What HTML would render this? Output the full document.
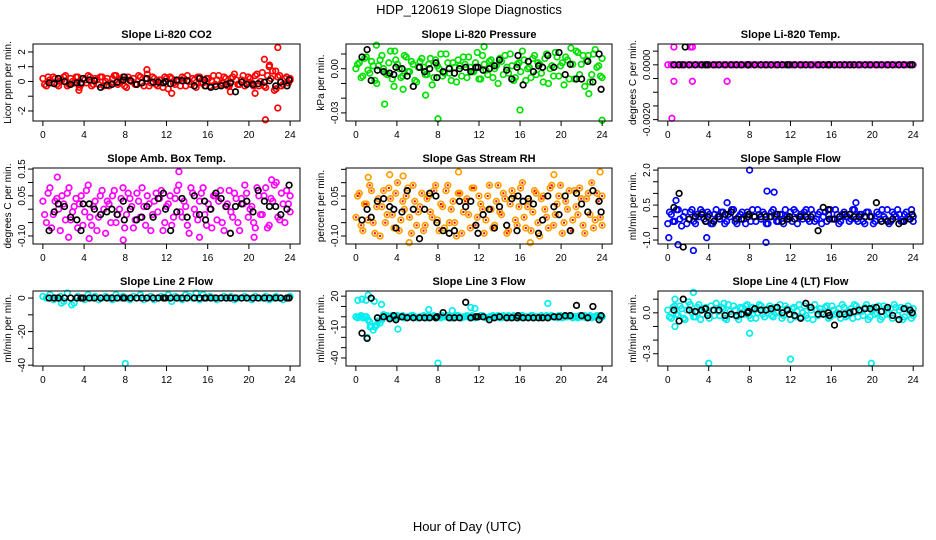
<!DOCTYPE html>
<html><head><meta charset="utf-8">
<style>
html,body{margin:0;padding:0;background:#fff;}
svg{display:block;font-family:"Liberation Sans",sans-serif;}
</style></head>
<body>
<svg id="chart" width="936" height="540" viewBox="0 0 936 540">
<text x="469" y="14" text-anchor="middle" font-size="13">HDP_120619  Slope Diagnostics</text>
<text x="467" y="531" text-anchor="middle" font-size="13">Hour of Day (UTC)</text>
</svg>
<script>
// ---- shared data ----
const blackHours = [0.6,1.1,1.5,2.1,2.7,3.3,3.7,3.9,4.5,5.0,5.6,6.2,6.7,7.2,7.8,7.9,8.5,9.1,9.6,10.1,10.7,11.2,11.7,11.9,12.4,13.0,13.5,14.0,14.7,15.2,15.7,15.8,16.3,16.8,17.3,17.8,18.2,18.7,19.3,19.8,20.4,20.9,21.5,22.0,22.6,23.1,23.7,23.9];
const xTickLabels = [0,4,8,12,16,20,24];

// ---- panel 1: CO2 ----
const co2Color = [0.2,-0.3,0.1,0.3,-0.2,0.0,0.3,-0.3,0.2,-0.1,0.3,-0.2,0.1,0.4,-0.3,0.2,-0.2,0.3,0.0,-0.3,0.2,0.4,-0.1,0.3,-0.4,0.1,0.2,-0.2,0.3,-0.3,0.5,-0.1,0.2,-0.3,0.1,0.3,-0.5,0.2,-0.2,0.1,0.3,-0.3,0.0,0.2,-0.4,0.3,-0.1,0.2,-0.3,0.4,0.1,-0.2,0.3,-0.3,0.2,0.5,-0.2,0.1,-0.3,0.3,-0.1,0.4,-0.3,0.6,-0.4,1.0,0.7,-0.5,0.4,-0.2,0.3,0.1];
const co2ColorB = [-0.2,0.3,-0.1,0.2,-0.3,0.1,0.4,-0.2,0.0,0.3,-0.4,0.2,-0.1,0.3,-0.2,0.1,0.3,-0.3,0.2,-0.1,0.4,-0.2,0.1,-0.3,0.3,0.0,-0.2,0.4,-0.1,0.2,-0.3,0.3,-0.2,0.1,-0.4,0.2,0.3,-0.1,0.0,-0.3,0.2,0.4,-0.2,0.1,0.3,-0.1,-0.3,0.2,0.0,-0.2,0.4,-0.1,0.2,-0.3,0.3,0.1,-0.2,0.4,-0.1,0.2,-0.3,0.5,0.0,-0.3,0.4,0.2,-0.6,0.3,-0.3,0.2,-0.1,0.2];
const co2Outliers = [[10.1,0.8],[21.5,1.5],[21.6,-2.6],[22.8,2.3],[22.8,-1.8],[20.6,-0.8],[3.5,-0.6],[22.0,1.1],[22.6,0.7],[18.2,-0.7],[12.5,-0.8]];
const co2Black = [-0.1,-0.15,0.2,0.0,-0.2,-0.1,-0.1,0.2,0.1,0.05,-0.4,-0.25,-0.2,-0.05,0.1,0.3,0.05,-0.2,-0.1,0.2,-0.05,-0.05,-0.1,0.0,-0.15,0.1,0.05,0.05,-0.3,0.2,0.1,-0.3,-0.4,-0.35,-0.3,-0.2,-0.1,-0.7,-0.05,-0.2,-0.2,-0.15,-0.05,0.05,-0.3,-0.05,-0.3,0.1];
const co2Ticks = [2,1,0,-1,-2];
const co2TickLabels = ["2","1","0","","-2"];

// ---- panel 2: pressure ----
const presColor = [0.000,0.004,-0.005,0.008,-0.003,0.002,-0.010,0.006,0.000,-0.004,0.012,-0.012,0.003,-0.006,0.009,-0.002,0.005,-0.008,0.001,0.007,-0.004,0.003,-0.011,0.006,0.000,-0.005,0.010,-0.003,0.004,-0.009,0.002,0.008,-0.006,0.001,-0.002,0.011,-0.007,0.003,-0.004,0.006,0.000,-0.010,0.005,0.009,-0.003,0.002,-0.006,0.004,0.012,-0.008,0.001,0.007,-0.004,0.003,-0.009,0.010,0.000,-0.005,0.008,0.002,-0.011,0.006,0.014,-0.007,0.011,0.003,-0.012,0.009,-0.004,0.013,0.002,-0.006];
const presColorB = [0.003,-0.006,0.007,-0.001,0.005,-0.008,0.002,0.009,-0.003,0.004,-0.007,0.006,0.000,-0.005,0.008,-0.002,0.003,-0.009,0.005,0.001,-0.004,0.007,-0.006,0.002,0.010,-0.003,0.004,-0.008,0.001,0.006,-0.005,0.003,0.008,-0.002,0.004,-0.007,0.009,-0.001,0.005,-0.006,0.002,0.007,-0.004,0.001,0.010,-0.008,0.003,-0.002,0.006,0.000,-0.006,0.009,0.004,-0.003,0.007,-0.010,0.002,0.011,-0.005,0.004,0.008,-0.007,0.003,0.012,-0.004,0.009,0.006,-0.009,0.010,0.001,-0.005,0.007];
const presOutliers = [[2.8,-0.024],[8.0,-0.034],[16.0,-0.028],[24.0,-0.035],[6.8,-0.018],[2.0,0.016],[12.5,0.015],[22.7,-0.017],[4.6,-0.014],[3.8,0.012]];
const presBlack = [0.008,0.013,-0.008,-0.001,-0.002,-0.003,-0.004,0.001,0.000,-0.005,-0.012,0.001,-0.002,0.000,0.004,-0.006,-0.002,0.000,-0.003,0.000,0.001,-0.002,0.001,0.001,-0.001,0.000,0.002,0.006,-0.001,-0.007,0.001,0.009,-0.011,0.005,-0.002,0.002,0.001,0.009,0.001,0.011,-0.004,0.003,-0.007,-0.007,0.005,-0.009,0.010,-0.014];
const presTicks = [0.01,0,-0.01,-0.02,-0.03];
const presTickLabels = ["","0.00","","","-0.03"];

// ---- panel 3: Li-820 temp ----
const tempColor = [0,0,0,0,0,0,0,0,0,0,0,0,0,0,0,0,0,0,0,0,0,0,0,0,0,0,0,0,0,0,0,0,0,0,0,0,0,0,0,0,0,0,0,0,0,0,0,0,0,0,0,0,0,0,0,0,0,0,0,0,0,0,0,0,0,0,0,0,0,0,0,0];
const tempOutliers = [[0.6,0.00065],[2.2,0.00065],[2.4,0.00065],[0.6,-0.0006],[2.4,-0.0006],[5.8,-0.0006],[0.4,-0.00195]];
const tempBlack = [0,0,0,0,0,0,0,0,0,0,0,0,0,0,0,0,0,0,0,0,0,0,0,0,0,0,0,0,0,0,0,0,0,0,0,0,0,0,0,0,0,0,0,0,0,0,0,0];
const tempBlackExtra = [[1.7,0.00065]];
const tempTicks = [0.0005,0,-0.0005,-0.001,-0.0015,-0.002];
const tempTickLabels = ["","0.0000","","","","-0.0020"];

// ---- panel 4: amb box temp ----
const ambColor = [0.03,-0.05,0.08,-0.02,0.04,-0.08,0.02,0.06,-0.04,0.01,-0.07,0.05,-0.01,0.09,-0.06,0.03,-0.03,0.07,-0.09,0.02,0.05,-0.05,0.00,0.08,-0.02,0.04,-0.07,0.06,-0.03,0.01,0.05,-0.08,0.03,-0.01,0.07,-0.05,0.02,-0.06,0.04,0.09,-0.03,0.01,-0.09,0.06,-0.02,0.03,0.08,-0.06,0.00,0.05,-0.04,0.07,-0.08,0.02,-0.01,0.06,-0.05,0.04,0.09,-0.03,0.01,-0.07,0.05,-0.02,0.08,-0.06,0.03,0.10,-0.04,0.02,0.07,-0.01];
const ambColorB = [-0.02,0.06,-0.07,0.03,0.00,0.05,-0.04,0.08,-0.01,0.04,0.02,-0.06,0.07,-0.03,0.01,-0.08,0.05,0.00,0.03,-0.05,0.07,-0.02,0.04,-0.07,0.06,0.01,-0.04,0.03,0.08,-0.06,0.02,-0.02,0.06,0.04,-0.08,0.01,0.05,-0.03,0.07,-0.01,0.03,-0.06,0.08,0.00,-0.04,0.06,-0.02,0.02,-0.07,0.05,0.03,-0.05,0.01,0.07,-0.03,0.04,-0.08,0.02,0.06,0.00,-0.05,0.08,-0.02,0.05,-0.07,0.04,0.09,-0.03,0.06,-0.05,0.02,0.05];
const ambOutliers = [[1.4,0.12],[13.2,0.14],[7.8,-0.115],[4.5,-0.11],[2.5,-0.105],[15.2,-0.105],[20.5,-0.105],[22.2,0.11]];
const ambBlack = [-0.08,-0.01,0.02,0.01,-0.03,-0.04,-0.08,0.02,0.02,0.0,-0.02,-0.01,0.0,-0.02,0.03,-0.04,0.0,-0.04,-0.03,0.01,-0.03,0.04,0.06,0.0,-0.08,-0.01,0.04,-0.03,0.05,-0.02,0.03,-0.04,0.0,0.06,0.04,0.01,-0.09,0.01,0.02,0.03,-0.01,0.07,0.03,0.01,0.01,-0.02,0.0,0.09];
const ambTicks = [0.15,0.10,0.05,0,-0.05,-0.10];
const ambTickLabels = ["0.15","","0.05","","","-0.10"];

// ---- panel 5: gas stream RH ----
const rhColor = [-0.03,0.06,-0.08,0.02,0.09,-0.05,0.01,-0.10,0.07,-0.02,0.04,-0.07,0.10,-0.04,0.00,0.08,-0.09,0.03,-0.01,0.06,-0.06,0.05,-0.03,0.09,-0.08,0.01,0.07,-0.05,0.03,-0.10,0.06,-0.01,0.04,-0.07,0.08,-0.03,0.02,-0.09,0.05,0.00,-0.06,0.09,-0.02,0.04,-0.08,0.07,-0.04,0.01,0.10,-0.07,0.03,-0.01,0.06,-0.10,0.05,-0.03,0.08,-0.06,0.02,0.09,-0.05,0.00,-0.08,0.07,-0.02,0.04,-0.09,0.06,0.10,-0.04,0.03,-0.06];
const rhColorB = [0.05,-0.06,0.02,-0.04,0.07,-0.09,0.04,0.01,-0.05,0.08,-0.02,0.06,-0.08,0.03,0.05,-0.03,0.09,-0.06,0.01,-0.08,0.04,-0.01,0.07,-0.04,0.02,-0.07,0.09,0.00,-0.05,0.06,-0.09,0.03,-0.02,0.08,-0.06,0.05,0.00,-0.04,0.09,-0.07,0.03,-0.01,0.06,-0.09,0.02,0.05,-0.06,0.08,-0.03,0.01,-0.08,0.07,-0.05,0.04,0.00,-0.07,0.09,-0.02,0.05,-0.09,0.03,0.07,-0.04,0.01,0.08,-0.06,0.04,-0.02,-0.07,0.06,-0.03,0.05];
const rhOutliers = [[10.0,0.14],[23.8,0.14],[5.2,-0.125],[17.0,-0.125],[1.2,0.12],[3.3,0.13],[4.6,0.125],[19.3,0.13]];
const rhBlack = [-0.04,0.0,-0.03,0.03,0.04,0.01,0.0,-0.07,-0.01,0.07,0.0,-0.11,0.0,0.06,0.05,-0.05,-0.08,-0.09,-0.08,0.03,0.01,0.03,-0.06,-0.09,-0.02,0.0,-0.07,0.01,-0.06,0.04,-0.08,0.05,0.03,0.04,0.02,-0.09,-0.04,0.05,0.01,-0.02,0.05,-0.08,0.06,0.02,-0.01,0.07,0.03,-0.01];
const rhTicks = [0.15,0.10,0.05,0,-0.05,-0.10];
const rhTickLabels = ["","","0.05","","","-0.10"];

// ---- panel 6: sample flow ----
const sfColor = [-0.3,0.1,-0.2,0.3,-0.4,0.2,-0.1,0.3,-0.3,0.0,0.2,-0.2,0.1,-0.3,0.3,-0.1,0.2,-0.2,0.0,0.3,-0.3,0.1,-0.1,0.2,-0.2,0.0,0.3,-0.1,0.1,-0.3,0.2,0.0,-0.2,0.1,0.3,-0.1,-0.2,0.2,0.0,-0.1,0.3,-0.2,0.1,-0.1,0.2,0.0,-0.2,0.3,-0.1,0.1,-0.2,0.2,0.0,-0.1,0.3,-0.2,0.1,-0.3,0.2,0.0,-0.2,0.1,0.3,-0.1,-0.3,0.2,0.0,0.1,-0.2,0.2,-0.1,0.0];
const sfColorB = [0.2,-0.2,0.3,-0.1,0.0,-0.3,0.2,-0.2,0.1,0.3,-0.1,0.2,-0.3,0.1,0.0,0.2,-0.3,0.1,0.3,-0.2,0.0,0.2,-0.3,0.1,0.3,-0.2,0.1,0.2,-0.3,0.0,0.3,-0.2,0.1,-0.3,0.0,0.2,0.3,-0.3,0.1,0.2,-0.1,0.3,-0.2,0.1,-0.3,0.2,0.1,-0.1,0.3,-0.3,0.1,0.0,-0.2,0.3,-0.1,0.1,-0.2,0.2,0.0,-0.3,0.2,-0.1,0.0,0.3,-0.2,0.1,0.3,-0.2,0.1,0.0,0.3,-0.2];
const sfOutliers = [[8.0,2.0],[9.7,1.1],[10.4,1.05],[9.6,-1.1],[2.5,-1.45],[0.8,0.7],[5.8,0.6],[18.4,0.6],[1.0,-1.2],[0.1,-0.9],[3.8,-0.9]];
const sfBlack = [0.4,1.0,-1.3,-0.1,0.0,0.1,-0.2,0.0,-0.2,0.0,0.1,0.2,-0.1,-0.1,0.0,0.1,0.0,0.0,0.0,0.0,0.1,-0.2,-0.1,0.0,-0.1,0.0,0.0,0.0,-0.6,0.4,0.3,-0.1,-0.1,0.0,0.1,0.1,0.0,0.0,0.0,0.0,0.6,-0.2,-0.2,-0.1,-0.3,-0.2,-0.1,0.1];
const sfTicks = [2.0,1.5,1.0,0.5,0,-0.5,-1.0];
const sfTickLabels = ["2.0","","","0.5","","","-1.0"];

// ---- panel 7: line 2 ----
const l2Color = [1,0,2,-1,0,1,-2,3,0,-3,1,0,-1,2,0,1,-1,0,1,0,-1,2,0,1,0,-1,1,0,2,-1,0,1,-1,0,1,0,2,-2,1,0,-1,2,1,0,3,-1,2,0,1,0,-1,0,1,0,1,-1,0,0,1,0,-1,1,0,0,1,-1,0,1,0,-1,0,1];
const l2Outliers = [[8.0,-39],[2.8,-4],[1.8,-3]];
const l2Black = [0,0,0,0,0,0,0,0,0,0,0,0,0,0,0,0,0,0,0,0,0,0,0,0,0,0,0,0,0,0,0,0,0,0,0,0,0,0,0,0,0,0,0,0,0,0,0,0];
const l2Ticks = [0,-10,-20,-30,-40];
const l2TickLabels = ["0","","-20","","-40"];

// ---- panel 8: line 3 ----
const l3Color = [0,0,-1,0,-5,-13,-8,-6,2,1,-1,0,1,0,-1,0,1,0,-1,0,0,1,0,-1,0,1,0,0,-1,1,0,0,1,-1,0,0,1,0,-1,0,0,1,-1,0,1,0,0,-1,1,0,0,1,0,-1,0,1,0,0,-1,1,0,0,1,0,-1,0,1,0,-1,0,1,0];
const l3ColorB = [-1,1,0,-3,-9,-10,-4,-3,1,0,1,-1,0,1,-1,0,1,-1,0,1,-1,0,1,0,-1,0,1,-1,0,1,-1,0,0,1,-1,0,1,-1,0,1,0,-1,1,0,-1,1,0,1,-1,0,1,-1,0,1,0,-1,1,0,1,-1,0,1,-1,0,1,0,-1,1,0,1,-1,0];
const l3Outliers = [[0.2,16],[0.6,17],[1.2,21],[1.0,16],[1.8,15],[2.5,12],[4.1,-12],[7.1,7],[9.4,6],[11.2,9],[11.6,8],[18.7,13],[8.0,-45],[1.1,-20],[1.4,-10]];
const l3Black = [-16,-21,18,-1,0,-2,1,-3,0,-1,-1,-1,-1,-1,-1,0,4,-1,-1,-1,14,-1,0,0,0,-3,-1,0,-1,-1,-1,1,-1,-1,-1,-1,-1,-1,0,0,1,1,11,1,-1,10,-3,1];
const l3Ticks = [20,10,0,-10,-20,-30,-40];
const l3TickLabels = ["20","","","-10","","","-40"];

// ---- panel 9: line 4 ----
const l4Color = [0.02,-0.04,0.05,-0.02,0.03,-0.05,0.08,0.00,-0.03,0.06,-0.01,0.04,-0.04,0.02,0.07,-0.02,0.03,-0.05,0.01,0.05,-0.03,0.04,-0.01,0.06,-0.04,0.02,0.00,0.05,-0.03,0.03,-0.02,0.04,0.01,-0.04,0.05,-0.01,0.03,-0.03,0.06,0.00,-0.02,0.04,-0.05,0.02,0.03,-0.01,0.05,-0.03,0.02,0.00,-0.04,0.04,-0.02,0.03,0.06,-0.03,0.01,0.04,-0.05,0.02,-0.01,0.05,-0.03,0.03,0.00,-0.04,0.04,0.02,-0.05,0.03,0.01,-0.02];
const l4ColorB = [-0.03,0.04,-0.01,0.05,-0.04,0.02,0.06,-0.03,0.04,-0.05,0.03,0.00,0.05,-0.02,0.01,0.04,-0.04,0.06,-0.01,0.02,-0.05,0.03,0.05,-0.02,0.04,-0.04,0.06,-0.01,0.02,0.05,-0.03,0.00,0.06,-0.02,0.03,-0.05,0.04,0.01,-0.03,0.05,-0.04,0.02,0.06,-0.02,0.00,0.04,-0.04,0.05,-0.01,0.03,0.06,-0.03,0.01,-0.04,0.05,0.02,-0.02,0.06,-0.03,0.04,0.00,-0.05,0.05,-0.01,0.03,0.06,-0.02,0.04,-0.03,0.05,-0.04,0.03];
const l4Outliers = [[0.7,0.1],[2.5,0.15],[4.0,-0.37],[12.0,-0.34],[19.9,-0.37],[8.0,-0.15],[0.7,-0.1],[5.5,0.07]];
const l4Black = [0.02,-0.06,0.1,0.02,0.01,0.02,0.03,-0.02,0.02,0.02,-0.02,-0.01,-0.02,-0.01,0.0,0.01,0.03,0.02,0.02,0.03,0.04,0.0,0.02,-0.01,-0.02,-0.04,0.07,0.04,-0.01,-0.01,0.0,-0.02,-0.09,-0.01,-0.01,0.0,0.01,0.02,0.03,0.03,0.04,0.01,0.04,-0.02,-0.05,0.03,0.02,0.0];
const l4Ticks = [0.1,0,-0.1,-0.2,-0.3];
const l4TickLabels = ["","0.0","","","-0.3"];

// ---- layout (geometry, not data) ----
const cols = [{l:33,r:300},{l:346,r:612},{l:658,r:923}];
const rows = [{t:44,b:121},{t:168,b:244},{t:291,b:366}];
const panels = [
 {name:"co2",title:"Slope Li-820 CO2",ylab:"Licor ppm per min.",col:0,row:0,ymin:-2.68,ymax:2.54,color:"#ff0000",c:co2Color,cb:co2ColorB,o:co2Outliers,k:co2Black,ticks:co2Ticks,tl:co2TickLabels},
 {name:"pressure",title:"Slope Li-820 Pressure",ylab:"kPa per min.",col:1,row:0,ymin:-0.0355,ymax:0.0168,color:"#00e000",c:presColor,cb:presColorB,o:presOutliers,k:presBlack,ticks:presTicks,tl:presTickLabels},
 {name:"li820-temp",title:"Slope Li-820 Temp.",ylab:"degrees C per min.",col:2,row:0,ymin:-0.00205,ymax:0.00076,color:"#ff00ff",c:tempColor,o:tempOutliers,k:tempBlack,kx:tempBlackExtra,ticks:tempTicks,tl:tempTickLabels},
 {name:"amb-box-temp",title:"Slope Amb. Box Temp.",ylab:"degrees C per min.",col:0,row:1,ymin:-0.13,ymax:0.154,color:"#ff00ff",c:ambColor,cb:ambColorB,o:ambOutliers,k:ambBlack,ticks:ambTicks,tl:ambTickLabels},
 {name:"gas-stream-rh",title:"Slope Gas Stream RH",ylab:"percent per min.",col:1,row:1,ymin:-0.13,ymax:0.155,color:"#ffa000",c:rhColor,cb:rhColorB,o:rhOutliers,k:rhBlack,ticks:rhTicks,tl:rhTickLabels,cross:"#ff0000"},
 {name:"sample-flow",title:"Slope Sample Flow",ylab:"ml/min per min.",col:2,row:1,ymin:-1.17,ymax:2.09,color:"#0000ff",c:sfColor,cb:sfColorB,o:sfOutliers,k:sfBlack,ticks:sfTicks,tl:sfTickLabels},
 {name:"line2-flow",title:"Slope Line 2 Flow",ylab:"ml/min per min.",col:0,row:2,ymin:-40.5,ymax:4.2,color:"#00eeee",c:l2Color,o:l2Outliers,k:l2Black,ticks:l2Ticks,tl:l2TickLabels},
 {name:"line3-flow",title:"Slope Line 3 Flow",ylab:"ml/min per min.",col:1,row:2,ymin:-47.8,ymax:25,color:"#00eeee",c:l3Color,cb:l3ColorB,o:l3Outliers,k:l3Black,ticks:l3Ticks,tl:l3TickLabels},
 {name:"line4-flow",title:"Slope Line 4 (LT) Flow",ylab:"ml/min per min.",col:2,row:2,ymin:-0.39,ymax:0.16,color:"#00eeee",c:l4Color,cb:l4ColorB,o:l4Outliers,k:l4Black,ticks:l4Ticks,tl:l4TickLabels}
];

const NS="http://www.w3.org/2000/svg";
const svg=document.getElementById('chart');
function mk(tag,attrs,parent){const e=document.createElementNS(NS,tag);for(const a in attrs)e.setAttribute(a,attrs[a]);(parent||svg).appendChild(e);return e;}

panels.forEach(p=>{
  const C=cols[p.col],R=rows[p.row];
  const g=mk('g',{});
  
  
  const xs=v=>C.l+(v+0.96)/25.92*(C.r-C.l);
  const ys=v=>R.b-(v-p.ymin)/(p.ymax-p.ymin)*(R.b-R.t);
  const t=mk('text',{x:(C.l+C.r)/2,y:R.t-6,'text-anchor':'middle','font-size':'11','font-weight':'bold'},g);
  t.textContent=p.title;
  
  
  const pts=mk('g',{},g);
  
  
  const dot=(x,y,col)=>{
    const c=mk('circle',{cx:xs(x).toFixed(1),cy:ys(y).toFixed(1),r:2.8,fill:'none',stroke:col,'stroke-width':1.7},pts);
    
    
  };
  const cross=(x,y)=>{
    const r=mk('rect',{x:(xs(x)-1).toFixed(1),y:(ys(y)-1).toFixed(1),width:2,height:2,fill:p.cross},pts);
    
    
  };
  const n=p.c.length;
  for(let i=0;i<n;i++){dot(i*24/(n-1),p.c[i],p.color);}
  if(p.cb){const nb=p.cb.length;for(let i=0;i<nb;i++){dot(Math.min(24,(i+0.5)*24/(nb-1)),p.cb[i],p.color);}}
  p.o.forEach(q=>dot(q[0],q[1],p.color));
  if(p.cross){
    for(let i=0;i<n;i++)cross(i*24/(n-1),p.c[i]);
    if(p.cb){const nb=p.cb.length;for(let i=0;i<nb;i++)cross(Math.min(24,(i+0.5)*24/(nb-1)),p.cb[i]);}
  }
  const m=Math.min(blackHours.length,p.k.length);
  for(let i=0;i<m;i++)dot(blackHours[i],p.k[i],'#000');
  if(p.kx)p.kx.forEach(q=>dot(q[0],q[1],'#000'));
  const b=mk('rect',{x:C.l,y:R.t,width:C.r-C.l,height:R.b-R.t,fill:'none',stroke:'#000','stroke-width':1},g);
  
  
  const xa=mk('g',{},g);
  
  
  mk('line',{x1:xs(0),x2:xs(24),y1:R.b,y2:R.b,stroke:'#000'},xa);
  xTickLabels.forEach(v=>{
    mk('line',{x1:xs(v),x2:xs(v),y1:R.b,y2:R.b+5,stroke:'#000'},xa);
    const tx=mk('text',{x:xs(v),y:R.b+17,'text-anchor':'middle','font-size':'10'},xa);
    tx.textContent=v;
    
    
  });
  const ya=mk('g',{},g);
  
  
  mk('line',{x1:C.l,x2:C.l,y1:ys(p.ticks[0]),y2:ys(p.ticks[p.ticks.length-1]),stroke:'#000'},ya);
  p.ticks.forEach((v,i)=>{
    const y=ys(v);
    mk('line',{x1:C.l-5,x2:C.l,y1:y,y2:y,stroke:'#000'},ya);
    if(p.tl[i]){
      const tx=mk('text',{x:C.l-8,y:y,'text-anchor':'middle','font-size':'10',transform:`rotate(-90 ${C.l-8} ${y})`},ya);
      tx.textContent=p.tl[i];
      
      
    }
  });
  const lx=C.l-22,ly=(R.t+R.b)/2;
  const yl=mk('text',{x:lx,y:ly,'text-anchor':'middle','font-size':'10',transform:`rotate(-90 ${lx} ${ly})`},g);
  yl.textContent=p.ylab;
  
  
});
</script>
</body></html>
